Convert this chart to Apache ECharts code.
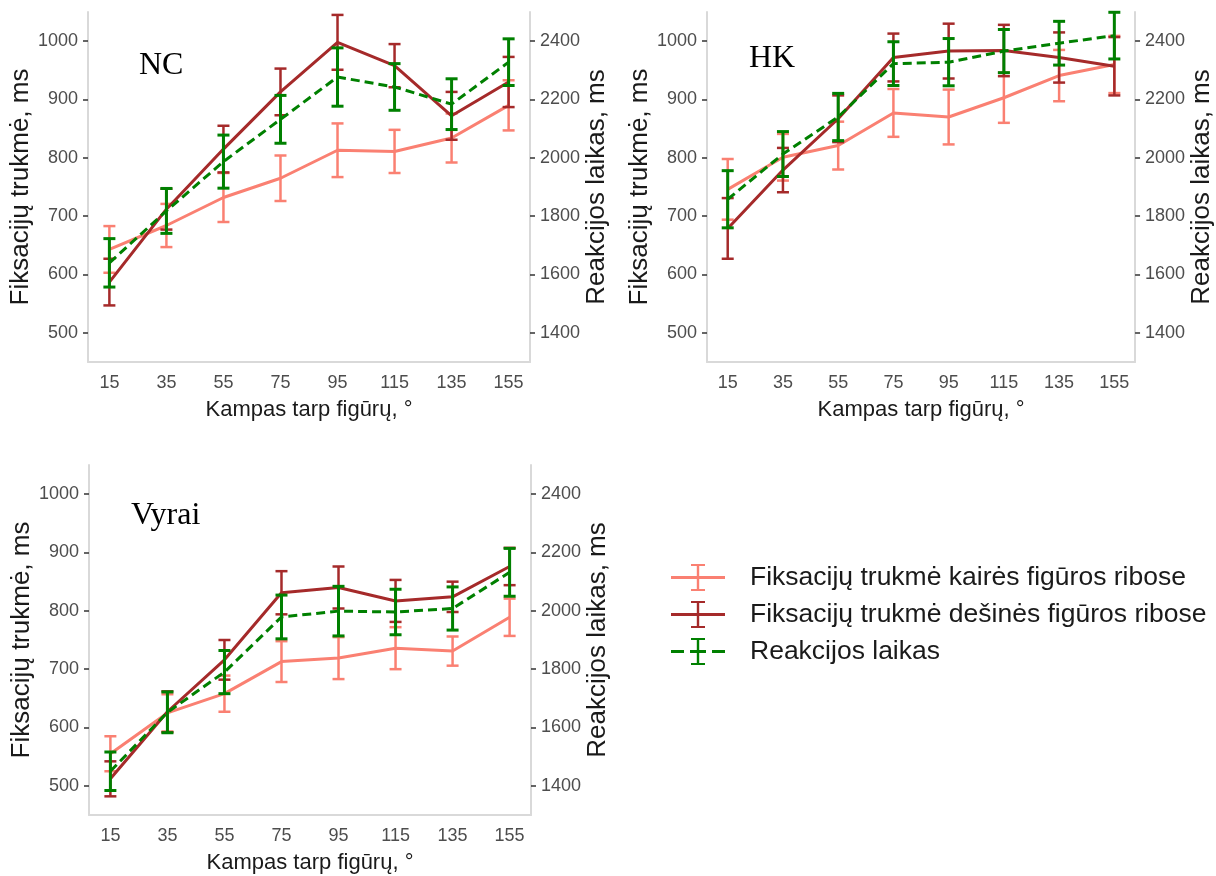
<!DOCTYPE html>
<html>
<head>
<meta charset="utf-8">
<script src="https://cdn.jsdelivr.net/npm/echarts@6/dist/echarts.min.js"></script>
<style>
  html, body { margin: 0; padding: 0; background: #fff; }
  #chart { width: 1216px; height: 876px; }
</style>
</head>
<body>
<div id="chart"></div>
<script>
// kampai (x)
var angles = [15, 35, 55, 75, 95, 115, 135, 155];
var leftTicks = [500, 600, 700, 800, 900, 1000];
var rightTicks = [1400, 1600, 1800, 2000, 2200, 2400];

// NC
var ncKaire = [643, 684, 732, 765, 813, 811, 834, 890];
var ncKaireErr = [40, 37, 42, 39, 46, 37, 42, 43];
var ncDesine = [587, 712, 815, 913, 998, 958, 872, 930];
var ncDesineErr = [40, 35, 40, 40, 47, 37, 41, 43];
var ncReakc = [1640, 1818, 1987, 2132, 2277, 2243, 2184, 2328];
var ncReakcErr = [83, 77, 91, 82, 100, 80, 87, 80];

// HK
var hkKaire = [746, 801, 821, 877, 870, 903, 941, 960];
var hkKaireErr = [52, 40, 41, 41, 47, 43, 44, 49];
var hkDesine = [679, 779, 867, 972, 983, 984, 972, 957];
var hkDesineErr = [52, 38, 40, 41, 47, 44, 43, 50];
var hkReakc = [1858, 2013, 2140, 2323, 2328, 2366, 2393, 2419];
var hkReakcErr = [98, 77, 81, 75, 81, 74, 75, 80];

// Vyrai
var vyKaire = [555, 625, 658, 713, 719, 736, 731, 789];
var vyKaireErr = [30, 32, 31, 35, 36, 36, 25, 32];
var vyDesine = [512, 627, 716, 831, 840, 817, 824, 876];
var vyDesineErr = [30, 35, 34, 37, 36, 36, 26, 32];
var vyReakc = [1450, 1652, 1790, 1979, 1999, 1996, 2008, 2132];
var vyReakcErr = [66, 70, 74, 75, 85, 78, 74, 82];

var names = ['Fiksacijų trukmė kairės figūros ribose', 'Fiksacijų trukmė dešinės figūros ribose', 'Reakcijos laikas'];
var colors = ['#fa8072', '#a52a2a', '#008000'];

var panels = [
    {title: 'NC', data: [[ncKaire, ncKaireErr], [ncDesine, ncDesineErr], [ncReakc, ncReakcErr]]},
    {title: 'HK', data: [[hkKaire, hkKaireErr], [hkDesine, hkDesineErr], [hkReakc, hkReakcErr]]},
    {title: 'Vyrai', data: [[vyKaire, vyKaireErr], [vyDesine, vyDesineErr], [vyReakc, vyReakcErr]]}
];

var font = 'Liberation Sans';
var grids = [
    {left: 88, top: 12, width: 442, height: 350},
    {left: 707, top: 12, width: 442, height: 350},
    {left: 89, top: 465, width: 442, height: 350}
];
var titlePos = [[139, 50], [749, 43], [131, 500]];

function errRender(color, width) {
    return function (params, api) {
        var x = api.value(0);
        var lo = api.coord([x, api.value(1)]);
        var hi = api.coord([x, api.value(2)]);
        var w = 6;
        var st = {stroke: color, lineWidth: width};
        return {
            type: 'group',
            children: [
                {type: 'line', shape: {x1: lo[0], y1: lo[1], x2: hi[0], y2: hi[1]}, style: st},
                {type: 'line', shape: {x1: lo[0] - w, y1: lo[1], x2: lo[0] + w, y2: lo[1]}, style: st},
                {type: 'line', shape: {x1: hi[0] - w, y1: hi[1], x2: hi[0] + w, y2: hi[1]}, style: st}
            ]
        };
    };
}

function plain(v) { return String(v); }

var axisLine = {show: true, lineStyle: {color: '#d9d9d9', width: 2}};
var tickStyle = {show: true, length: 5, lineStyle: {color: '#333', width: 1.5}};
var labelStyle = {color: '#4d4d4d', fontSize: 18, fontFamily: font, formatter: plain};
var nameStyle = {color: '#1a1a1a', fontSize: 26, fontFamily: font};

var xAxes = [], yAxes = [], series = [], titles = [];
panels.forEach(function (p, g) {
    xAxes.push({
        gridIndex: g, type: 'value', min: 7.5, max: 162.5,
        name: 'Kampas tarp figūrų, °', nameLocation: 'middle', nameGap: 37,
        nameTextStyle: {color: '#1a1a1a', fontSize: 22, fontFamily: font},
        axisLine: axisLine, axisTick: {show: false}, splitLine: {show: false},
        axisLabel: Object.assign({customValues: angles, margin: 12}, labelStyle)
    });
    yAxes.push({
        gridIndex: g, type: 'value', position: 'left', min: 450, max: 1050,
        name: 'Fiksacijų trukmė, ms', nameLocation: 'middle', nameGap: 52, nameRotate: 90,
        nameTextStyle: nameStyle,
        axisLine: axisLine, splitLine: {show: false},
        axisTick: Object.assign({customValues: leftTicks}, tickStyle),
        axisLabel: Object.assign({customValues: leftTicks, margin: 10}, labelStyle)
    });
    yAxes.push({
        gridIndex: g, type: 'value', position: 'right', min: 1300, max: 2500,
        name: 'Reakcijos laikas, ms', nameLocation: 'middle', nameGap: 48, nameRotate: 90,
        nameTextStyle: nameStyle,
        axisLine: axisLine, splitLine: {show: false},
        axisTick: Object.assign({customValues: rightTicks}, tickStyle),
        axisLabel: Object.assign({customValues: rightTicks, margin: 10}, labelStyle)
    });
    titles.push({
        text: p.title, left: titlePos[g][0], top: titlePos[g][1], padding: 0,
        textStyle: {fontFamily: 'Liberation Serif', fontSize: 32, fontWeight: 'normal', color: '#000'}
    });
    p.data.forEach(function (d, k) {
        var m = d[0], e = d[1];
        var yi = g * 2 + (k === 2 ? 1 : 0);
        series.push({
            name: 'err' + g + k, type: 'custom', xAxisIndex: g, yAxisIndex: yi,
            renderItem: errRender(colors[k], k === 2 ? 3 : 2.5),
            encode: {x: 0, y: [1, 2]}, silent: true, z: 2 + k,
            data: angles.map(function (a, i) { return [a, m[i] - e[i], m[i] + e[i]]; })
        });
        series.push({
            name: names[k], type: 'line', xAxisIndex: g, yAxisIndex: yi,
            showSymbol: false, silent: true, z: 2 + k,
            lineStyle: {color: colors[k], width: 3, type: k === 2 ? [9, 5] : 'solid'},
            itemStyle: {color: colors[k]},
            data: angles.map(function (a, i) { return [a, m[i]]; })
        });
    });
});

// legendos ikonos: linija su paklaidos brūkšniu
var solidIcon = 'path://M0 12.5L54 12.5L54 15.5L0 15.5Z M25.8 1.5L28.2 1.5L28.2 26.5L25.8 26.5Z M20 0.5L34 0.5L34 2.5L20 2.5Z M20 25.5L34 25.5L34 27.5L20 27.5Z';
var dashIcon = 'path://M0 12.5L13 12.5L13 15.5L0 15.5Z M19 12.5L35 12.5L35 15.5L19 15.5Z M41 12.5L54 12.5L54 15.5L41 15.5Z M25.8 1.5L28.2 1.5L28.2 26.5L25.8 26.5Z M20 0.5L34 0.5L34 2.5L20 2.5Z M20 25.5L34 25.5L34 27.5L20 27.5Z';

var chart = echarts.init(document.getElementById('chart'), null, {renderer: 'canvas'});
chart.setOption({
    animation: false,
    backgroundColor: '#fff',
    title: titles,
    grid: grids,
    xAxis: xAxes,
    yAxis: yAxes,
    legend: {
        orient: 'vertical', left: 666, top: 559,
        itemWidth: 54, itemHeight: 28, itemGap: 10,
        textStyle: {fontSize: 26.5, color: '#1a1a1a', fontFamily: font, padding: [0, 0, 0, 20]},
        data: [
            {name: names[0], icon: solidIcon, itemStyle: {color: colors[0], borderWidth: 0}},
            {name: names[1], icon: solidIcon, itemStyle: {color: colors[1], borderWidth: 0}},
            {name: names[2], icon: dashIcon, itemStyle: {color: colors[2], borderWidth: 0}}
        ]
    },
    series: series
});
</script>
</body>
</html>
